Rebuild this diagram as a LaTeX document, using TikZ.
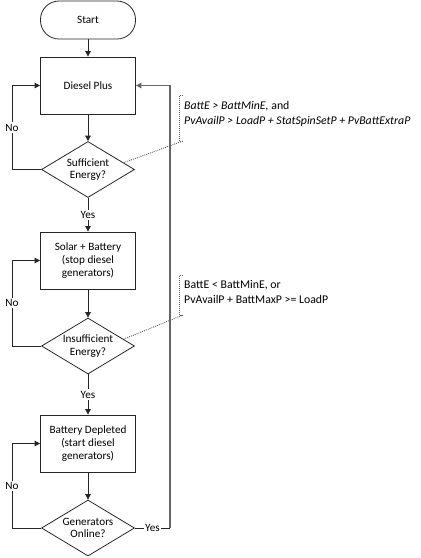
\documentclass[tikz,border=0pt]{standalone}
\usepackage{fontspec}
\setmainfont{Carlito}
\usetikzlibrary{shapes.geometric,arrows.meta,calc}
\begin{document}
\begin{tikzpicture}[x=1pt,y=-1pt,
  font=\fontsize{11.2}{12.7}\selectfont,
  flow/.style={draw=black!85, line width=0.8pt},
  arr/.style={flow, -{Triangle[length=5.5pt,width=5.5pt]}},
  backline/.style={draw=black!60, line width=1.2pt, -{Triangle[length=5.5pt,width=5.5pt]}},
  terminal/.style={flow, rectangle, rounded corners=18.5pt, minimum width=95pt, minimum height=38pt},
  procbox/.style={flow, rectangle, minimum width=95pt, minimum height=57pt, align=center, inner sep=1pt},
  decision/.style={flow, diamond, aspect=1.66, inner sep=0pt, minimum width=93pt, minimum height=56pt},
  lab/.style={fill=white, inner sep=1.5pt},
  note/.style={draw=black!65, line width=0.9pt, dash pattern=on 0.9pt off 1.1pt},
  notetext/.style={anchor=north west, align=left, inner sep=0pt, font=\fontsize{11.8}{14.6}\selectfont}
]
\useasboundingbox (0,0) rectangle (421,558);

% main column
\node[terminal] (start) at (88,20) {Start};
\node[procbox] (diesel) at (88,85.5) {Diesel Plus};
\node[decision, label={[align=center]center:Sufficient\\Energy?}] (d1) at (88,169.5) {};
\node[procbox] (solar) at (88,260.5) {Solar + Battery\\(stop diesel\\generators)};
\node[decision, label={[align=center]center:Insufficient\\Energy?}] (d2) at (88,346) {};
\node[procbox] (batt) at (88,443.5) {Battery Depleted\\(start diesel\\generators)};
\node[decision, label={[align=center]center:Generators\\Online?}] (d3) at (88,528) {};

\draw[arr] (start) -- (diesel);
\draw[arr] (diesel) -- (d1);
\draw[arr] (d1) -- node[lab]{Yes} (solar);
\draw[arr] (solar) -- (d2);
\draw[arr] (d2) -- node[lab]{Yes} (batt);
\draw[arr] (batt) -- (d3);

% "No" loops on the left
\coordinate (l1) at (12,169.5);
\coordinate (l2) at (12,346);
\coordinate (l3) at (12,528);
\draw[arr] (d1.west) -- (l1) |- node[lab,pos=0.25]{No} (diesel.west);
\draw[arr] (d2.west) -- (l2) |- node[lab,pos=0.25]{No} (solar.west);
\draw[arr] (d3.west) -- (l3) |- node[lab,pos=0.25]{No} (batt.west);

% return to Diesel Plus once generators are online
\coordinate (r1) at (170,528);
\draw[flow] (d3.east) -- node[lab]{Yes} (r1);
\draw[backline] (r1) |- (diesel.east);

% condition notes
\node[notetext] (n1) at (184,101.5)
  {\textit{BattE > BattMinE,} and\\\textit{PvAvailP > LoadP + StatSpinSetP + PvBattExtraP}};
\coordinate (b1) at (183,141);
\draw[note] (183,95) -- (179.5,95) -- (179.5,141) -- (b1);
\draw[note] ($(d1.north)!0.76!(d1.east)$) -- (b1);

\node[notetext] (n2) at (184,280.5)
  {BattE < BattMinE, or\\PvAvailP + BattMaxP >= LoadP};
\coordinate (b2) at (183,315);
\draw[note] (183,275) -- (179.5,275) -- (179.5,315) -- (b2);
\draw[note] ($(d2.north)!0.76!(d2.east)$) -- (b2);
\end{tikzpicture}
\end{document}
